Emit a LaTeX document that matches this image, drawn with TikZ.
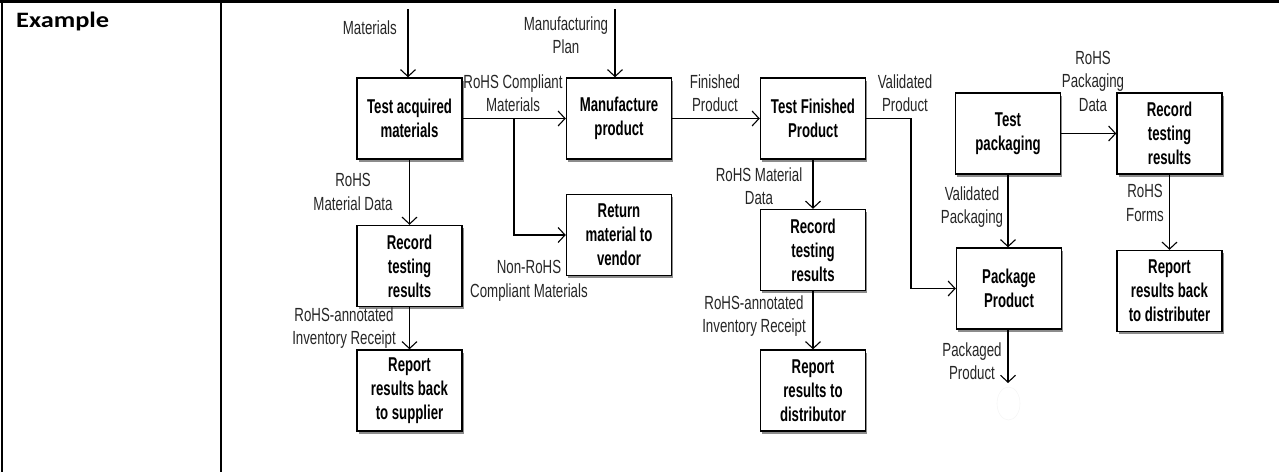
\documentclass[tikz,border=0pt]{standalone}
\usepackage{fontspec}
\usetikzlibrary{arrows.meta,shadows,shapes.geometric}
\newfontfamily\labfont[FakeStretch=0.70]{Liberation Sans}
\newfontfamily\boxfont[FakeStretch=0.66]{Liberation Sans}
\newfontfamily\headfont{Carlito}
\begin{document}
\begin{tikzpicture}[x=1pt,y=-1pt,
  proc/.style={draw=black,line width=1.4pt,fill=white,minimum width=105pt,minimum height=81pt,
    inner sep=2pt,align=center,text=black,
    font={\boxfont\bfseries\fontsize{20}{24}\selectfont},
    drop shadow={shadow xshift=1.5pt,shadow yshift=-2.5pt,fill=black!45,opacity=1}},
  lab/.style={inner sep=0pt,align=center,text=black!85,font={\labfont\fontsize{19}{23.5}\selectfont}},
  flow/.style={line width=1.1pt,-{Straight Barb[length=7pt,width=15pt,line width=1.1pt]}},
  rule/.style={line width=2.6pt}]
\useasboundingbox (0,0) rectangle (1279,472);

% table frame
\draw[rule] (0,1.3) -- (1279,1.3);
\draw[rule] (2,0) -- (2,472);
\draw[rule] (221,0) -- (221,472);
\node[anchor=base west,inner sep=0pt,font={\headfont\bfseries\fontsize{22}{26}\selectfont}] (ex) at (16,27.5) {\scalebox{1.2}[1]{Example}};

% process boxes
\node[proc] (ta) at (409.5,118.5) {Test acquired\\materials};
\node[proc] (mp) at (619,118.5) {Manufacture\\product};
\node[proc] (rv) at (619,235) {Return\\material to\\vendor};
\node[proc] (r1) at (409.5,266) {Record\\testing\\results};
\node[proc] (s1) at (409.5,390.5) {Report\\results back\\to supplier};
\node[proc] (tf) at (813,118.5) {Test Finished\\Product};
\node[proc] (r2) at (813,250) {Record\\testing\\results};
\node[proc] (d2) at (813,390.5) {Report\\results to\\distributor};
\node[proc] (tp) at (1008,133.5) {Test\\packaging};
\node[proc] (pp) at (1009,288.5) {Package\\Product};
\node[proc] (r3) at (1169.5,133.5) {Record\\testing\\results};
\node[proc] (d3) at (1169.5,291) {Report\\results back\\to distributer};

% free ends of connectors
\coordinate (matin) at (408,9);
\coordinate (planin) at (615,9);
\coordinate (split) at (514,118.5);
\coordinate (vbend) at (911,118.5);
\coordinate (pout) at (1008,383);

% connectors
\draw[flow] (matin) -- (matin |- ta.north);
\draw[flow] (planin) -- (planin |- mp.north);
\draw[flow] (ta.east) -- (mp.west);
\draw[flow] (split) |- (rv.west);
\draw[flow] (ta.south) -- (r1.north);
\draw[flow] (r1.south) -- (s1.north);
\draw[flow] (mp.east) -- (tf.west);
\draw[flow] (tf.south) -- (r2.north);
\draw[flow] (r2.south) -- (d2.north);
\draw[flow] (tf.east) -- (vbend) |- (pp.west);
\draw[flow] (tp.east) -- (r3.west);
\draw[flow] (tp.south) -- (tp.south |- pp.north);
\draw[flow] (r3.south) -- (d3.north);
\draw[flow] (pp.south -| pout) -- (pout);
\node[draw=black!4,line width=0.6pt,ellipse,minimum width=23pt,minimum height=33pt,inner sep=0pt] (conn) at (1008.5,403.5) {};

% connector labels
\node[lab,anchor=east] (lmat) at (397,28) {Materials};
\node[lab] (lplan) at (566,35) {Manufacturing\\Plan};
\node[lab] (lcomp) at (513,93) {RoHS Compliant\\Materials};
\node[lab] (lmd1) at (353,192) {RoHS\\Material Data};
\node[lab] (lnon) at (529,281) {Non-RoHS\\Compliant Materials};
\node[lab] (linv1) at (344,328) {RoHS-annotated\\Inventory Receipt};
\node[lab] (lfin) at (715,93) {Finished\\Product};
\node[lab] (lval) at (905,93) {Validated\\Product};
\node[lab] (lmd2) at (759,186) {RoHS Material\\Data};
\node[lab] (linv2) at (754,316) {RoHS-annotated\\Inventory Receipt};
\node[lab] (lpd) at (1093,81) {RoHS\\Packaging\\Data};
\node[lab] (lvp) at (972,207) {Validated\\Packaging};
\node[lab] (lpp) at (972,361) {Packaged\\Product};
\node[lab] (lforms) at (1145,203) {RoHS\\Forms};
\end{tikzpicture}
\end{document}
